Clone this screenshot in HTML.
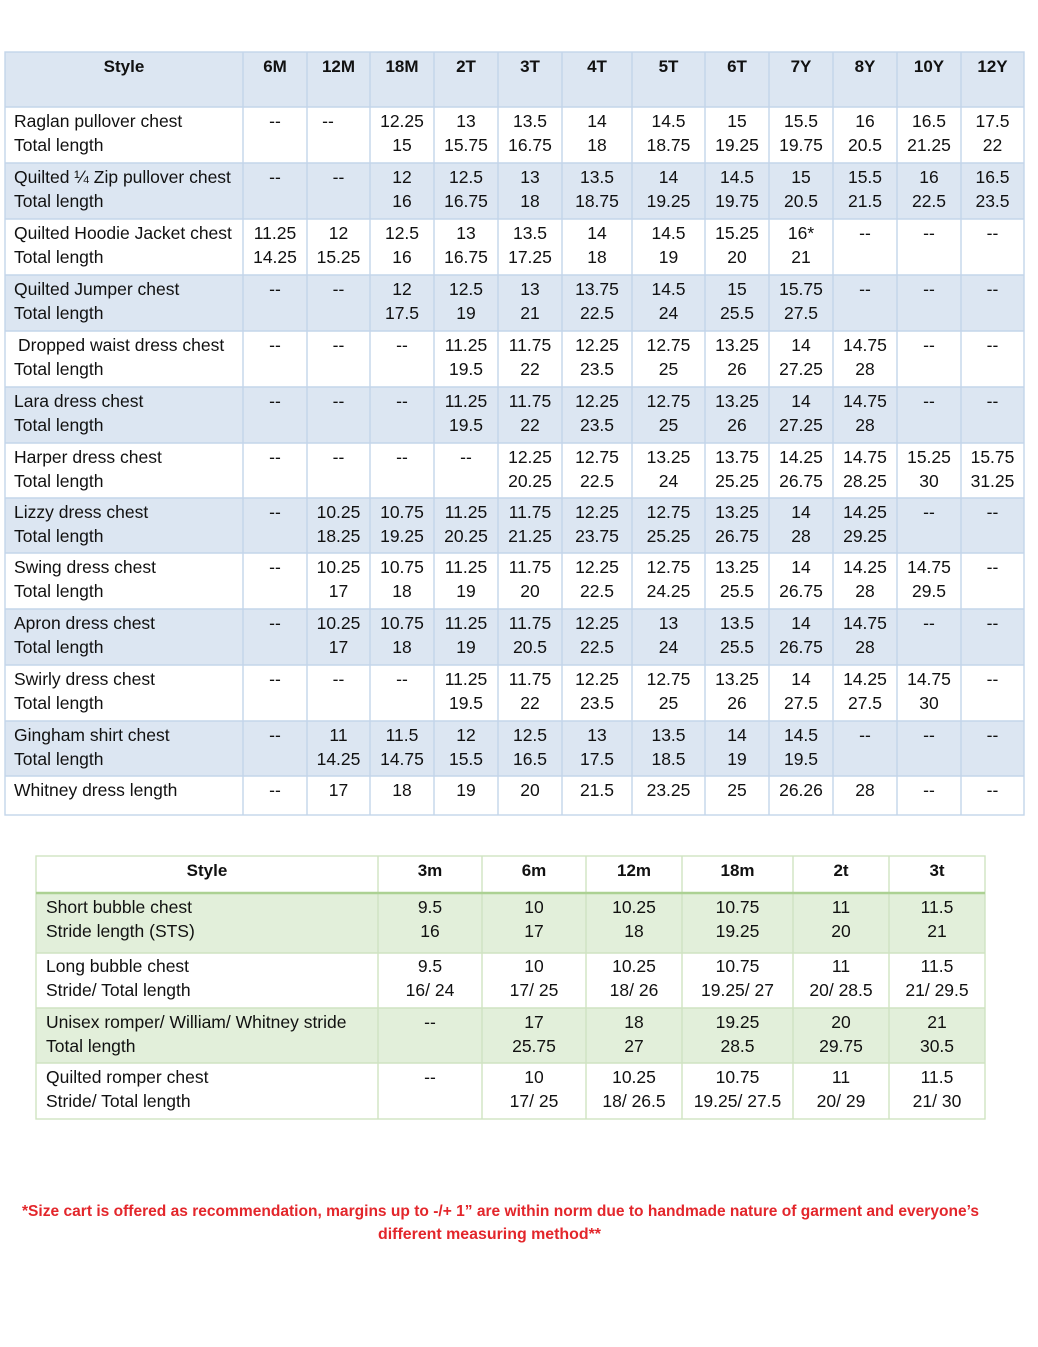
<!DOCTYPE html>
<html><head><meta charset="utf-8">
<style>
html,body{margin:0;padding:0;background:#fff;}
svg{display:block;}
.l{font-family:"Liberation Sans",Arial,sans-serif;font-size:17.5px;fill:#111;}
.n{font-family:"Liberation Sans",Arial,sans-serif;font-size:17.5px;fill:#111;text-anchor:middle;}
.h{font-family:"Liberation Sans",Arial,sans-serif;font-size:17px;font-weight:bold;fill:#111;text-anchor:middle;}
.r{font-family:"Liberation Sans",Arial,sans-serif;font-size:16px;font-weight:bold;fill:#e3262b;}
</style></head>
<body>
<svg width="1038" height="1347" viewBox="0 0 1038 1347" xmlns="http://www.w3.org/2000/svg">
<rect width="1038" height="1347" fill="#fff"/>
<g fill="#dce6f2">
<rect x="5" y="52" width="1019" height="55"/>
<rect x="5" y="163" width="1019" height="56"/>
<rect x="5" y="275" width="1019" height="56"/>
<rect x="5" y="387" width="1019" height="56"/>
<rect x="5" y="498" width="1019" height="55"/>
<rect x="5" y="609" width="1019" height="56"/>
<rect x="5" y="721" width="1019" height="55"/>
</g>
<g stroke="#c3d5ea" stroke-width="1.4" fill="none">
<rect x="5" y="52" width="1019" height="763"/>
<line x1="243" y1="52" x2="243" y2="815"/><line x1="307" y1="52" x2="307" y2="815"/>
<line x1="370" y1="52" x2="370" y2="815"/><line x1="434" y1="52" x2="434" y2="815"/>
<line x1="498" y1="52" x2="498" y2="815"/><line x1="562" y1="52" x2="562" y2="815"/>
<line x1="632" y1="52" x2="632" y2="815"/><line x1="705" y1="52" x2="705" y2="815"/>
<line x1="769" y1="52" x2="769" y2="815"/><line x1="833" y1="52" x2="833" y2="815"/>
<line x1="897" y1="52" x2="897" y2="815"/><line x1="961" y1="52" x2="961" y2="815"/>
<line x1="5" y1="107" x2="1024" y2="107"/><line x1="5" y1="163" x2="1024" y2="163"/>
<line x1="5" y1="219" x2="1024" y2="219"/><line x1="5" y1="275" x2="1024" y2="275"/>
<line x1="5" y1="331" x2="1024" y2="331"/><line x1="5" y1="387" x2="1024" y2="387"/>
<line x1="5" y1="443" x2="1024" y2="443"/><line x1="5" y1="498" x2="1024" y2="498"/>
<line x1="5" y1="553" x2="1024" y2="553"/><line x1="5" y1="609" x2="1024" y2="609"/>
<line x1="5" y1="665" x2="1024" y2="665"/><line x1="5" y1="721" x2="1024" y2="721"/>
<line x1="5" y1="776" x2="1024" y2="776"/>
</g>
<text class="h" x="124" y="72">Style</text>
<text class="h" x="275" y="72">6M</text><text class="h" x="338.5" y="72">12M</text>
<text class="h" x="402" y="72">18M</text><text class="h" x="466" y="72">2T</text>
<text class="h" x="530" y="72">3T</text><text class="h" x="597" y="72">4T</text>
<text class="h" x="668.5" y="72">5T</text><text class="h" x="737" y="72">6T</text>
<text class="h" x="801" y="72">7Y</text><text class="h" x="865" y="72">8Y</text>
<text class="h" x="929" y="72">10Y</text><text class="h" x="992.5" y="72">12Y</text>

<text class="l" x="14" y="127">Raglan pullover chest<tspan x="14" dy="24">Total length</tspan></text>
<text class="n" x="275" y="127">--</text><text class="n" x="328" y="127">--</text>
<text class="n" x="402" y="127">12.25<tspan x="402" dy="24">15</tspan></text>
<text class="n" x="466" y="127">13<tspan x="466" dy="24">15.75</tspan></text>
<text class="n" x="530" y="127">13.5<tspan x="530" dy="24">16.75</tspan></text>
<text class="n" x="597" y="127">14<tspan x="597" dy="24">18</tspan></text>
<text class="n" x="668.5" y="127">14.5<tspan x="668.5" dy="24">18.75</tspan></text>
<text class="n" x="737" y="127">15<tspan x="737" dy="24">19.25</tspan></text>
<text class="n" x="801" y="127">15.5<tspan x="801" dy="24">19.75</tspan></text>
<text class="n" x="865" y="127">16<tspan x="865" dy="24">20.5</tspan></text>
<text class="n" x="929" y="127">16.5<tspan x="929" dy="24">21.25</tspan></text>
<text class="n" x="992.5" y="127">17.5<tspan x="992.5" dy="24">22</tspan></text>

<text class="l" x="14" y="183">Quilted ¼ Zip pullover chest<tspan x="14" dy="24">Total length</tspan></text>
<text class="n" x="275" y="183">--</text><text class="n" x="338.5" y="183">--</text>
<text class="n" x="402" y="183">12<tspan x="402" dy="24">16</tspan></text>
<text class="n" x="466" y="183">12.5<tspan x="466" dy="24">16.75</tspan></text>
<text class="n" x="530" y="183">13<tspan x="530" dy="24">18</tspan></text>
<text class="n" x="597" y="183">13.5<tspan x="597" dy="24">18.75</tspan></text>
<text class="n" x="668.5" y="183">14<tspan x="668.5" dy="24">19.25</tspan></text>
<text class="n" x="737" y="183">14.5<tspan x="737" dy="24">19.75</tspan></text>
<text class="n" x="801" y="183">15<tspan x="801" dy="24">20.5</tspan></text>
<text class="n" x="865" y="183">15.5<tspan x="865" dy="24">21.5</tspan></text>
<text class="n" x="929" y="183">16<tspan x="929" dy="24">22.5</tspan></text>
<text class="n" x="992.5" y="183">16.5<tspan x="992.5" dy="24">23.5</tspan></text>

<text class="l" x="14" y="239">Quilted Hoodie Jacket chest<tspan x="14" dy="24">Total length</tspan></text>
<text class="n" x="275" y="239">11.25<tspan x="275" dy="24">14.25</tspan></text>
<text class="n" x="338.5" y="239">12<tspan x="338.5" dy="24">15.25</tspan></text>
<text class="n" x="402" y="239">12.5<tspan x="402" dy="24">16</tspan></text>
<text class="n" x="466" y="239">13<tspan x="466" dy="24">16.75</tspan></text>
<text class="n" x="530" y="239">13.5<tspan x="530" dy="24">17.25</tspan></text>
<text class="n" x="597" y="239">14<tspan x="597" dy="24">18</tspan></text>
<text class="n" x="668.5" y="239">14.5<tspan x="668.5" dy="24">19</tspan></text>
<text class="n" x="737" y="239">15.25<tspan x="737" dy="24">20</tspan></text>
<text class="n" x="801" y="239">16*<tspan x="801" dy="24">21</tspan></text>
<text class="n" x="865" y="239">--</text><text class="n" x="929" y="239">--</text><text class="n" x="992.5" y="239">--</text>

<text class="l" x="14" y="295">Quilted Jumper chest<tspan x="14" dy="24">Total length</tspan></text>
<text class="n" x="275" y="295">--</text><text class="n" x="338.5" y="295">--</text>
<text class="n" x="402" y="295">12<tspan x="402" dy="24">17.5</tspan></text>
<text class="n" x="466" y="295">12.5<tspan x="466" dy="24">19</tspan></text>
<text class="n" x="530" y="295">13<tspan x="530" dy="24">21</tspan></text>
<text class="n" x="597" y="295">13.75<tspan x="597" dy="24">22.5</tspan></text>
<text class="n" x="668.5" y="295">14.5<tspan x="668.5" dy="24">24</tspan></text>
<text class="n" x="737" y="295">15<tspan x="737" dy="24">25.5</tspan></text>
<text class="n" x="801" y="295">15.75<tspan x="801" dy="24">27.5</tspan></text>
<text class="n" x="865" y="295">--</text><text class="n" x="929" y="295">--</text><text class="n" x="992.5" y="295">--</text>

<text class="l" x="18" y="351">Dropped waist dress chest<tspan x="14" dy="24">Total length</tspan></text>
<text class="n" x="275" y="351">--</text><text class="n" x="338.5" y="351">--</text><text class="n" x="402" y="351">--</text>
<text class="n" x="466" y="351">11.25<tspan x="466" dy="24">19.5</tspan></text>
<text class="n" x="530" y="351">11.75<tspan x="530" dy="24">22</tspan></text>
<text class="n" x="597" y="351">12.25<tspan x="597" dy="24">23.5</tspan></text>
<text class="n" x="668.5" y="351">12.75<tspan x="668.5" dy="24">25</tspan></text>
<text class="n" x="737" y="351">13.25<tspan x="737" dy="24">26</tspan></text>
<text class="n" x="801" y="351">14<tspan x="801" dy="24">27.25</tspan></text>
<text class="n" x="865" y="351">14.75<tspan x="865" dy="24">28</tspan></text>
<text class="n" x="929" y="351">--</text><text class="n" x="992.5" y="351">--</text>

<text class="l" x="14" y="407">Lara dress chest<tspan x="14" dy="24">Total length</tspan></text>
<text class="n" x="275" y="407">--</text><text class="n" x="338.5" y="407">--</text><text class="n" x="402" y="407">--</text>
<text class="n" x="466" y="407">11.25<tspan x="466" dy="24">19.5</tspan></text>
<text class="n" x="530" y="407">11.75<tspan x="530" dy="24">22</tspan></text>
<text class="n" x="597" y="407">12.25<tspan x="597" dy="24">23.5</tspan></text>
<text class="n" x="668.5" y="407">12.75<tspan x="668.5" dy="24">25</tspan></text>
<text class="n" x="737" y="407">13.25<tspan x="737" dy="24">26</tspan></text>
<text class="n" x="801" y="407">14<tspan x="801" dy="24">27.25</tspan></text>
<text class="n" x="865" y="407">14.75<tspan x="865" dy="24">28</tspan></text>
<text class="n" x="929" y="407">--</text><text class="n" x="992.5" y="407">--</text>

<text class="l" x="14" y="463">Harper dress chest<tspan x="14" dy="24">Total length</tspan></text>
<text class="n" x="275" y="463">--</text><text class="n" x="338.5" y="463">--</text><text class="n" x="402" y="463">--</text><text class="n" x="466" y="463">--</text>
<text class="n" x="530" y="463">12.25<tspan x="530" dy="24">20.25</tspan></text>
<text class="n" x="597" y="463">12.75<tspan x="597" dy="24">22.5</tspan></text>
<text class="n" x="668.5" y="463">13.25<tspan x="668.5" dy="24">24</tspan></text>
<text class="n" x="737" y="463">13.75<tspan x="737" dy="24">25.25</tspan></text>
<text class="n" x="801" y="463">14.25<tspan x="801" dy="24">26.75</tspan></text>
<text class="n" x="865" y="463">14.75<tspan x="865" dy="24">28.25</tspan></text>
<text class="n" x="929" y="463">15.25<tspan x="929" dy="24">30</tspan></text>
<text class="n" x="992.5" y="463">15.75<tspan x="992.5" dy="24">31.25</tspan></text>

<text class="l" x="14" y="518">Lizzy dress chest<tspan x="14" dy="24">Total length</tspan></text>
<text class="n" x="275" y="518">--</text>
<text class="n" x="338.5" y="518">10.25<tspan x="338.5" dy="24">18.25</tspan></text>
<text class="n" x="402" y="518">10.75<tspan x="402" dy="24">19.25</tspan></text>
<text class="n" x="466" y="518">11.25<tspan x="466" dy="24">20.25</tspan></text>
<text class="n" x="530" y="518">11.75<tspan x="530" dy="24">21.25</tspan></text>
<text class="n" x="597" y="518">12.25<tspan x="597" dy="24">23.75</tspan></text>
<text class="n" x="668.5" y="518">12.75<tspan x="668.5" dy="24">25.25</tspan></text>
<text class="n" x="737" y="518">13.25<tspan x="737" dy="24">26.75</tspan></text>
<text class="n" x="801" y="518">14<tspan x="801" dy="24">28</tspan></text>
<text class="n" x="865" y="518">14.25<tspan x="865" dy="24">29.25</tspan></text>
<text class="n" x="929" y="518">--</text><text class="n" x="992.5" y="518">--</text>

<text class="l" x="14" y="573">Swing dress chest<tspan x="14" dy="24">Total length</tspan></text>
<text class="n" x="275" y="573">--</text>
<text class="n" x="338.5" y="573">10.25<tspan x="338.5" dy="24">17</tspan></text>
<text class="n" x="402" y="573">10.75<tspan x="402" dy="24">18</tspan></text>
<text class="n" x="466" y="573">11.25<tspan x="466" dy="24">19</tspan></text>
<text class="n" x="530" y="573">11.75<tspan x="530" dy="24">20</tspan></text>
<text class="n" x="597" y="573">12.25<tspan x="597" dy="24">22.5</tspan></text>
<text class="n" x="668.5" y="573">12.75<tspan x="668.5" dy="24">24.25</tspan></text>
<text class="n" x="737" y="573">13.25<tspan x="737" dy="24">25.5</tspan></text>
<text class="n" x="801" y="573">14<tspan x="801" dy="24">26.75</tspan></text>
<text class="n" x="865" y="573">14.25<tspan x="865" dy="24">28</tspan></text>
<text class="n" x="929" y="573">14.75<tspan x="929" dy="24">29.5</tspan></text>
<text class="n" x="992.5" y="573">--</text>

<text class="l" x="14" y="629">Apron dress chest<tspan x="14" dy="24">Total length</tspan></text>
<text class="n" x="275" y="629">--</text>
<text class="n" x="338.5" y="629">10.25<tspan x="338.5" dy="24">17</tspan></text>
<text class="n" x="402" y="629">10.75<tspan x="402" dy="24">18</tspan></text>
<text class="n" x="466" y="629">11.25<tspan x="466" dy="24">19</tspan></text>
<text class="n" x="530" y="629">11.75<tspan x="530" dy="24">20.5</tspan></text>
<text class="n" x="597" y="629">12.25<tspan x="597" dy="24">22.5</tspan></text>
<text class="n" x="668.5" y="629">13<tspan x="668.5" dy="24">24</tspan></text>
<text class="n" x="737" y="629">13.5<tspan x="737" dy="24">25.5</tspan></text>
<text class="n" x="801" y="629">14<tspan x="801" dy="24">26.75</tspan></text>
<text class="n" x="865" y="629">14.75<tspan x="865" dy="24">28</tspan></text>
<text class="n" x="929" y="629">--</text><text class="n" x="992.5" y="629">--</text>

<text class="l" x="14" y="685">Swirly dress chest<tspan x="14" dy="24">Total length</tspan></text>
<text class="n" x="275" y="685">--</text><text class="n" x="338.5" y="685">--</text><text class="n" x="402" y="685">--</text>
<text class="n" x="466" y="685">11.25<tspan x="466" dy="24">19.5</tspan></text>
<text class="n" x="530" y="685">11.75<tspan x="530" dy="24">22</tspan></text>
<text class="n" x="597" y="685">12.25<tspan x="597" dy="24">23.5</tspan></text>
<text class="n" x="668.5" y="685">12.75<tspan x="668.5" dy="24">25</tspan></text>
<text class="n" x="737" y="685">13.25<tspan x="737" dy="24">26</tspan></text>
<text class="n" x="801" y="685">14<tspan x="801" dy="24">27.5</tspan></text>
<text class="n" x="865" y="685">14.25<tspan x="865" dy="24">27.5</tspan></text>
<text class="n" x="929" y="685">14.75<tspan x="929" dy="24">30</tspan></text>
<text class="n" x="992.5" y="685">--</text>

<text class="l" x="14" y="741">Gingham shirt chest<tspan x="14" dy="24">Total length</tspan></text>
<text class="n" x="275" y="741">--</text>
<text class="n" x="338.5" y="741">11<tspan x="338.5" dy="24">14.25</tspan></text>
<text class="n" x="402" y="741">11.5<tspan x="402" dy="24">14.75</tspan></text>
<text class="n" x="466" y="741">12<tspan x="466" dy="24">15.5</tspan></text>
<text class="n" x="530" y="741">12.5<tspan x="530" dy="24">16.5</tspan></text>
<text class="n" x="597" y="741">13<tspan x="597" dy="24">17.5</tspan></text>
<text class="n" x="668.5" y="741">13.5<tspan x="668.5" dy="24">18.5</tspan></text>
<text class="n" x="737" y="741">14<tspan x="737" dy="24">19</tspan></text>
<text class="n" x="801" y="741">14.5<tspan x="801" dy="24">19.5</tspan></text>
<text class="n" x="865" y="741">--</text><text class="n" x="929" y="741">--</text><text class="n" x="992.5" y="741">--</text>

<text class="l" x="14" y="796">Whitney dress length</text>
<text class="n" x="275" y="796">--</text><text class="n" x="338.5" y="796">17</text>
<text class="n" x="402" y="796">18</text><text class="n" x="466" y="796">19</text>
<text class="n" x="530" y="796">20</text><text class="n" x="597" y="796">21.5</text>
<text class="n" x="668.5" y="796">23.25</text><text class="n" x="737" y="796">25</text>
<text class="n" x="801" y="796">26.26</text><text class="n" x="865" y="796">28</text>
<text class="n" x="929" y="796">--</text><text class="n" x="992.5" y="796">--</text>

<g fill="#e2efda">
<rect x="36" y="893" width="949" height="60"/>
<rect x="36" y="1008" width="949" height="55"/>
</g>
<g stroke="#cfe3c2" stroke-width="1.4" fill="none">
<rect x="36" y="856" width="949" height="263"/>
<line x1="378" y1="856" x2="378" y2="1119"/><line x1="482" y1="856" x2="482" y2="1119"/>
<line x1="586" y1="856" x2="586" y2="1119"/><line x1="682" y1="856" x2="682" y2="1119"/>
<line x1="793" y1="856" x2="793" y2="1119"/><line x1="889" y1="856" x2="889" y2="1119"/>
<line x1="36" y1="953" x2="985" y2="953"/><line x1="36" y1="1008" x2="985" y2="1008"/>
<line x1="36" y1="1063" x2="985" y2="1063"/>
</g>
<line x1="36" y1="893" x2="985" y2="893" stroke="#acd193" stroke-width="2.5"/>

<text class="h" x="207" y="876">Style</text>
<text class="h" x="430" y="876">3m</text><text class="h" x="534" y="876">6m</text>
<text class="h" x="634" y="876">12m</text><text class="h" x="737.5" y="876">18m</text>
<text class="h" x="841" y="876">2t</text><text class="h" x="937" y="876">3t</text>

<text class="l" x="46" y="913">Short bubble chest<tspan x="46" dy="24">Stride length (STS)</tspan></text>
<text class="n" x="430" y="913">9.5<tspan x="430" dy="24">16</tspan></text>
<text class="n" x="534" y="913">10<tspan x="534" dy="24">17</tspan></text>
<text class="n" x="634" y="913">10.25<tspan x="634" dy="24">18</tspan></text>
<text class="n" x="737.5" y="913">10.75<tspan x="737.5" dy="24">19.25</tspan></text>
<text class="n" x="841" y="913">11<tspan x="841" dy="24">20</tspan></text>
<text class="n" x="937" y="913">11.5<tspan x="937" dy="24">21</tspan></text>

<text class="l" x="46" y="972">Long bubble chest<tspan x="46" dy="24">Stride/ Total length</tspan></text>
<text class="n" x="430" y="972">9.5<tspan x="430" dy="24">16/ 24</tspan></text>
<text class="n" x="534" y="972">10<tspan x="534" dy="24">17/ 25</tspan></text>
<text class="n" x="634" y="972">10.25<tspan x="634" dy="24">18/ 26</tspan></text>
<text class="n" x="737.5" y="972">10.75<tspan x="737.5" dy="24">19.25/ 27</tspan></text>
<text class="n" x="841" y="972">11<tspan x="841" dy="24">20/ 28.5</tspan></text>
<text class="n" x="937" y="972">11.5<tspan x="937" dy="24">21/ 29.5</tspan></text>

<text class="l" x="46" y="1028">Unisex romper/ William/ Whitney stride<tspan x="46" dy="24">Total length</tspan></text>
<text class="n" x="430" y="1028">--</text>
<text class="n" x="534" y="1028">17<tspan x="534" dy="24">25.75</tspan></text>
<text class="n" x="634" y="1028">18<tspan x="634" dy="24">27</tspan></text>
<text class="n" x="737.5" y="1028">19.25<tspan x="737.5" dy="24">28.5</tspan></text>
<text class="n" x="841" y="1028">20<tspan x="841" dy="24">29.75</tspan></text>
<text class="n" x="937" y="1028">21<tspan x="937" dy="24">30.5</tspan></text>

<text class="l" x="46" y="1083">Quilted romper chest<tspan x="46" dy="24">Stride/ Total length</tspan></text>
<text class="n" x="430" y="1083">--</text>
<text class="n" x="534" y="1083">10<tspan x="534" dy="24">17/ 25</tspan></text>
<text class="n" x="634" y="1083">10.25<tspan x="634" dy="24">18/ 26.5</tspan></text>
<text class="n" x="737.5" y="1083">10.75<tspan x="737.5" dy="24">19.25/ 27.5</tspan></text>
<text class="n" x="841" y="1083">11<tspan x="841" dy="24">20/ 29</tspan></text>
<text class="n" x="937" y="1083">11.5<tspan x="937" dy="24">21/ 30</tspan></text>

<text class="r" x="22" y="1216" textLength="957" lengthAdjust="spacingAndGlyphs">*Size cart is offered as recommendation, margins up to -/+ 1” are within norm due to handmade nature of garment and everyone’s</text>
<text class="r" x="378" y="1239" textLength="223" lengthAdjust="spacingAndGlyphs">different measuring method**</text>
</svg>
</body></html>
